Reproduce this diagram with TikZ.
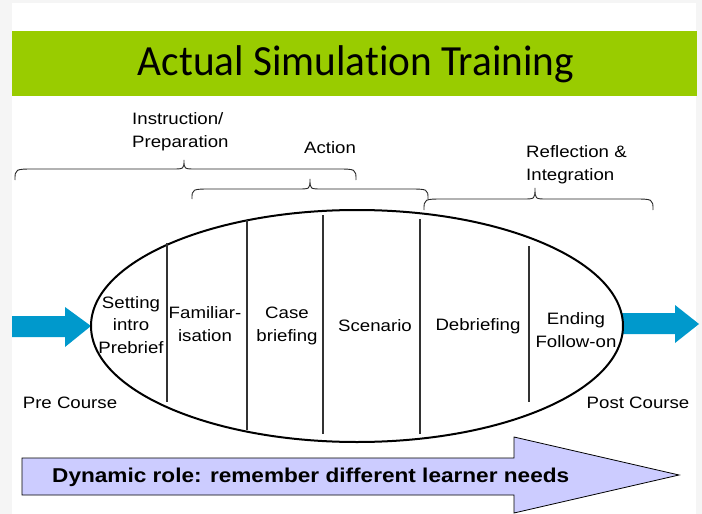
\documentclass[tikz,border=0pt]{standalone}
\usepackage{fontspec}
\setmainfont{Liberation Sans}
\newfontfamily\lblfont[FakeStretch=1.13]{Liberation Sans}
\newfontfamily\titlefont[FakeStretch=0.96,Ligatures=NoCommon]{Carlito}
\definecolor{bggray}{RGB}{245,245,245}
\definecolor{titlegreen}{RGB}{153,204,0}
\definecolor{arrowblue}{RGB}{0,153,204}
\definecolor{lavender}{RGB}{204,204,255}
\definecolor{divgray}{RGB}{50,50,50}
\newcommand\mybrace[6]{%
  \draw[bracestyle] (#1,#4) .. controls (#1,#5) and (#1,#5) .. ({#1+20},#5)
    -- ({#3-12},#5) .. controls (#3,#5) and (#3,#5) .. (#3,#6)
    .. controls (#3,#5) and (#3,#5) .. ({#3+12},#5)
    -- ({#2-20},#5) .. controls (#2,#5) and (#2,#5) .. (#2,#4);}
\begin{document}
\begin{tikzpicture}[x=1pt,y=-1pt,
  lbl/.style={font=\lblfont\fontsize{16.5}{22.5}\selectfont, inner sep=0pt, align=center},
  bracestyle/.style={line width=0.9pt, draw=black!85},
  divider/.style={line width=1.4pt, draw=divgray},
  bluearrow/.style={fill=arrowblue, draw=none}]
\useasboundingbox (0,0) rectangle (702,514);
\fill[bggray] (0,0) rectangle (702,514);
\fill[white] (12,3) rectangle (696,514);
\fill[titlegreen] (12,31) rectangle (697,96);
\node[font=\titlefont\fontsize{43}{50}\selectfont, inner sep=0pt] (title) at (356,64) {Actual Simulation Training};

% braces
\mybrace{15}{356}{184}{180}{169}{160}
\mybrace{192}{428}{310}{199}{189}{179}
\mybrace{424}{653}{535}{210}{199}{188}
\node[lbl, anchor=west, align=left] (instr) at (132,131.5) {Instruction/\\Preparation};
\node[lbl] (action) at (330,148) {Action};
\node[lbl, anchor=west, align=left] (refl) at (526,164.5) {Reflection \&\\Integration};

% blue arrows
\fill[bluearrow] (12,316) -- (65,316) -- (65,307) -- (91,326) -- (65,347) -- (65,337) -- (12,337) -- cycle;
\fill[bluearrow] (615,313) -- (675,313) -- (675,305) -- (699,324) -- (675,343) -- (675,334) -- (615,334) -- cycle;

% ellipse
\draw[line width=2pt, fill=white] (357,326) ellipse [x radius=266, y radius=116];
\node[inner sep=0pt, minimum width=532pt, minimum height=232pt] (oval) at (357,326) {};

% dividers
\draw[divider] (167,243) -- (167,402);
\draw[divider] (247,220) -- (247,430);
\draw[divider] (323,215) -- (323,434);
\draw[divider] (420,219) -- (420,434);
\draw[divider] (529,246) -- (529,402);

% stage labels
\node[lbl] (s1) at (131,325) {Setting\\intro\\Prebrief};
\node[lbl] (s2) at (205,324) {Familiar-\\isation};
\node[lbl] (s3) at (287,326) {Case\\briefing};
\node[lbl] (s4) at (375,326) {Scenario};
\node[lbl] (s5) at (478,326) {Debriefing};
\node[lbl] (s6) at (576,330) {Ending\\Follow-on};

\node[lbl] (pre) at (70,403) {Pre Course};
\node[lbl] (post) at (638,403) {Post Course};

% bottom arrow
\draw[fill=lavender, draw=black, line width=0.8pt] (22,458) -- (514,458) -- (514,437) -- (679,475) -- (514,513) -- (514,495) -- (22,495) -- cycle;
\node[font=\lblfont\bfseries\fontsize{20}{24}\selectfont, inner sep=0pt, anchor=west] (dyn) at (52,477) {Dynamic role: remember different learner needs};
\end{tikzpicture}
\end{document}
